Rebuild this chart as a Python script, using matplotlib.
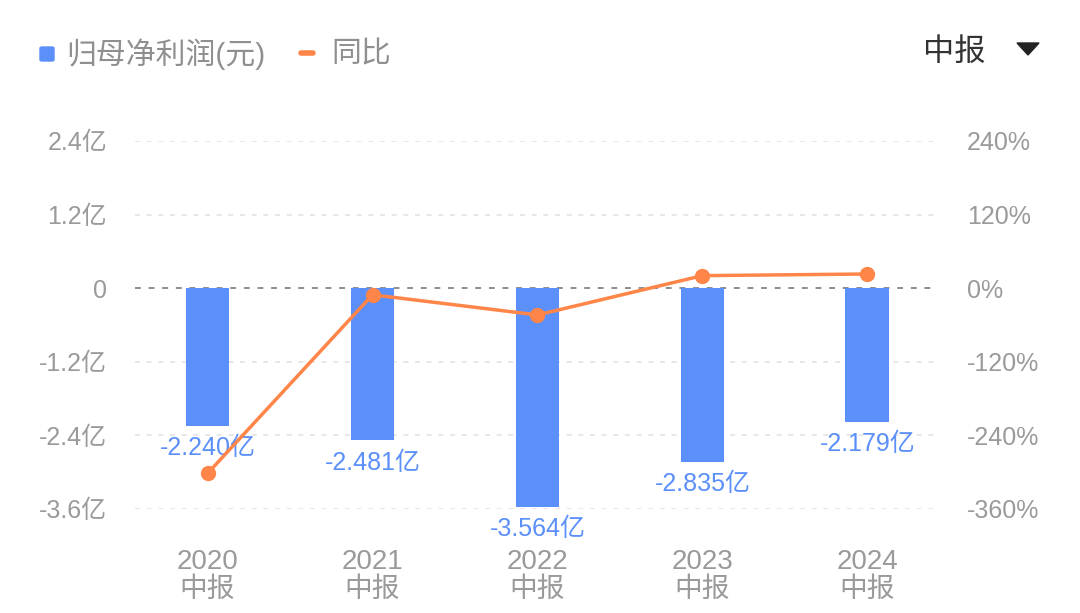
import matplotlib
matplotlib.use("Agg")
import matplotlib.pyplot as plt
from matplotlib.patches import FancyBboxPatch, Polygon
from matplotlib.lines import Line2D

categories = ["2020\n中报", "2021\n中报", "2022\n中报", "2023\n中报", "2024\n中报"]
profit = [-2.240, -2.481, -3.564, -2.835, -2.179]   # 亿
yoy = [-302.0, -10.76, -43.65, 20.45, 23.14]        # %
left_ticks = [-3.6, -2.4, -1.2, 0, 1.2, 2.4]
left_labels = ["-3.6亿", "-2.4亿", "-1.2亿", "0", "1.2亿", "2.4亿"]
right_ticks = [-360, -240, -120, 0, 120, 240]
right_labels = ["-360%", "-240%", "-120%", "0%", "120%", "240%"]

FAM = ["Liberation Sans", "Noto Sans CJK SC"]
plt.rcParams["font.family"] = FAM

BLUE = "#5B8FF9"
ORANGE = "#FF8548"
GRAY = "#9a9a9a"

fig = plt.figure(figsize=(10.8, 6.13), dpi=100)
ax = fig.add_axes([0.125, 0.1697, 0.7407, 0.6003])
ax2 = ax.twinx()

x = list(range(len(categories)))
ax.bar(x, profit, width=0.265, color=BLUE, zorder=3)
for xi, v in zip(x, profit):
    ax.annotate(f"{v:.3f}亿", (xi, v), xytext=(0, -7.5), textcoords="offset points",
                ha="center", va="top", color=BLUE, fontsize=18, zorder=5)

ax.set_xlim(-0.44, 4.41)
ax.set_ylim(-3.6, 2.4)
ax.set_yticks(left_ticks)
ax.set_yticklabels(left_labels)
ax.set_xticks(x)
ax.set_xticklabels(categories, fontsize=20, color=GRAY, linespacing=1.1)
ax.tick_params(axis="x", length=0, pad=29)
ax.tick_params(axis="y", length=0, pad=20, labelsize=18, labelcolor=GRAY)
for t in left_ticks:
    if t == 0:
        ax.axhline(t, color="#8c8c8c", lw=1.4, ls=(0, (3, 4)), zorder=2)
    else:
        ax.axhline(t, color="#e3e3e3", lw=1.2, ls=(0, (3, 4)), zorder=1)

ax2.plot(x, yoy, color=ORANGE, lw=2.5, marker="o", markersize=10, zorder=6)
ax2.set_ylim(-360, 240)
ax2.set_yticks(right_ticks)
ax2.set_yticklabels(right_labels)
ax2.tick_params(axis="y", length=0, pad=23, labelsize=18, labelcolor=GRAY)

for a in (ax, ax2):
    for s in a.spines.values():
        s.set_visible(False)
ax.set_zorder(1)
ax2.set_zorder(2)

# legend
fig.patches.append(FancyBboxPatch((40 / 1080, 1 - 61 / 613), 14 / 1080, 14 / 613,
                                  boxstyle="round,pad=0,rounding_size=0.002",
                                  transform=fig.transFigure, color=BLUE))
fig.text(66 / 1080, 1 - 54 / 613, "归母净利润(元)", fontsize=21.5, color="#8f8f8f",
         va="center", ha="left")
fig.lines.append(Line2D([301 / 1080, 313 / 1080], [1 - 53 / 613, 1 - 53 / 613],
                        transform=fig.transFigure, color=ORANGE, lw=4,
                        solid_capstyle="round"))
fig.text(331 / 1080, 1 - 54 / 613, "同比", fontsize=21.5, color="#8f8f8f",
         va="center", ha="left")

fig.text(923 / 1080, 1 - 53 / 613, "中报", fontsize=22.5, color="#333333",
         va="center", ha="left")
fig.patches.append(Polygon([(1017 / 1080, 1 - 43 / 613), (1039 / 1080, 1 - 43 / 613),
                            (1028 / 1080, 1 - 55 / 613)], closed=True,
                           transform=fig.transFigure, color="#222222"))

fig.savefig("out.png", dpi=100)
